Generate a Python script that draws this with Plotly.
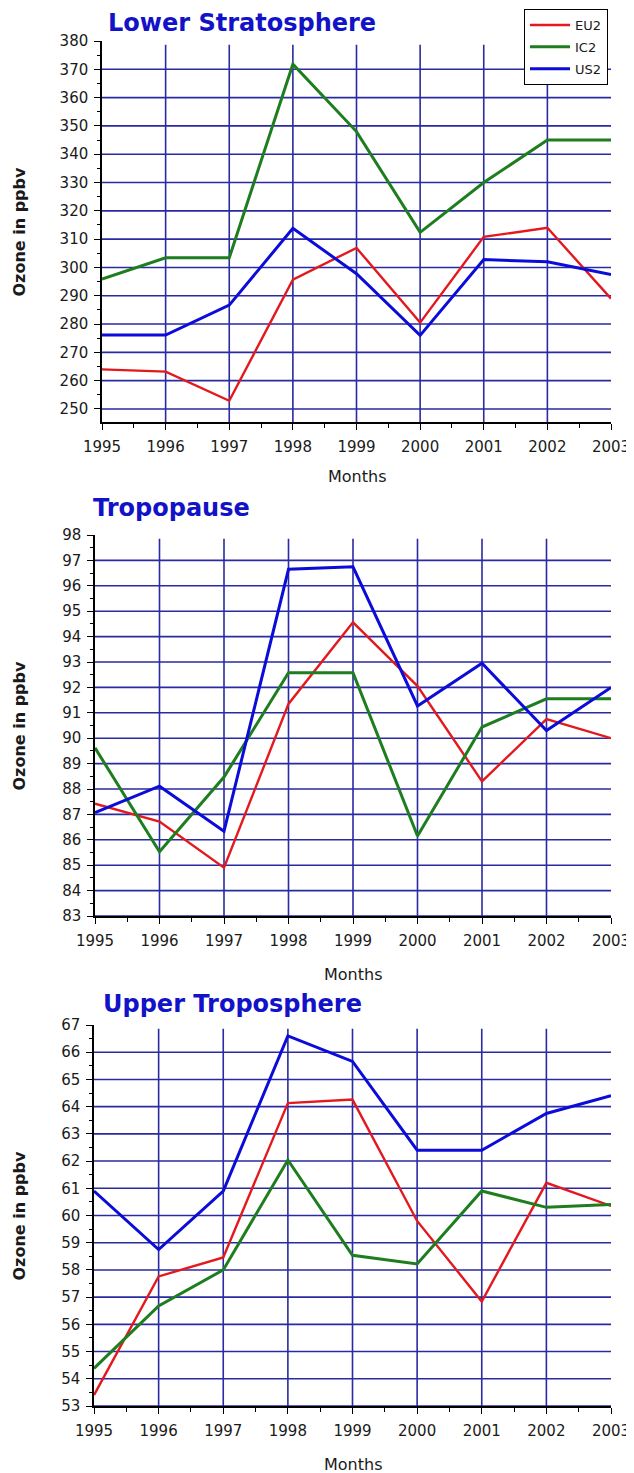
import plotly.graph_objects as go

# ---------------- data ----------------
years = [1995, 1996, 1997, 1998, 1999, 2000, 2001, 2002, 2003]
series_names = ["EU2", "IC2", "US2"]

# Lower Stratosphere
ls_eu2 = [264.0, 263.2, 252.9, 295.7, 306.9, 280.5, 310.8, 314.0, 289.0]
ls_ic2 = [295.9, 303.4, 303.4, 371.8, 348.0, 312.4, 330.0, 345.0, 345.0]
ls_us2 = [276.1, 276.1, 286.7, 313.8, 297.8, 276.0, 302.8, 302.0, 297.5]

# Tropopause
tp_eu2 = [87.42, 86.72, 84.90, 91.35, 94.56, 92.05, 88.30, 90.75, 90.00]
tp_ic2 = [89.62, 85.53, 88.47, 92.58, 92.58, 86.15, 90.44, 91.55, 91.55]
tp_us2 = [87.07, 88.11, 86.34, 96.65, 96.75, 91.27, 92.95, 90.30, 92.00]

# Upper Troposphere
ut_eu2 = [53.40, 57.76, 58.46, 64.13, 64.26, 59.80, 56.84, 61.20, 60.35]
ut_ic2 = [54.38, 56.68, 58.00, 62.04, 58.54, 58.22, 60.90, 60.30, 60.40]
ut_us2 = [60.90, 58.75, 60.90, 66.60, 65.66, 62.40, 62.40, 63.75, 64.40]

ls_yticks = [250, 260, 270, 280, 290, 300, 310, 320, 330, 340, 350, 360, 370, 380]
tp_yticks = [83, 84, 85, 86, 87, 88, 89, 90, 91, 92, 93, 94, 95, 96, 97, 98]
ut_yticks = [53, 54, 55, 56, 57, 58, 59, 60, 61, 62, 63, 64, 65, 66, 67]
x_ticklabels = [str(y) for y in years]

panel_titles = ["Lower Stratosphere", "Tropopause", "Upper Troposphere"]
x_title = "Months"
y_title = "Ozone in ppbv"

# ---------------- styling / layout geometry ----------------
PAGE_W, PAGE_H = 634, 1473
OFF = 8  # default body margin of the page
W, H = PAGE_W - OFF, PAGE_H - OFF
colors = ["#e3191e", "#1e7d1e", "#0c0cd8"]
widths = [2.4, 3.0, 3.0]
grid_color = "#2a2aa2"
font_family = "DejaVu Sans"

# (x_left, x_right, y_top, y_bottom) in page pixels
panel_px = [(102, 611, 41, 422), (95, 611, 535, 916), (94, 611, 1025, 1406)]
y_ranges = [[245.4, 380], [83, 98], [53, 67]]
y_minor = [(245, 5), (83, 0.5), (53, 0.5)]
# (x_left, y_top of text box) in page pixels
title_px = [(107, 8.5), (92, 493), (102, 989)]
months_py = [477, 975, 1464]

panel_series = [
    [ls_eu2, ls_ic2, ls_us2],
    [tp_eu2, tp_ic2, tp_us2],
    [ut_eu2, ut_ic2, ut_us2],
]
panel_ticks = [ls_yticks, tp_yticks, ut_yticks]


def fx(px):
    return (px - OFF) / W


def fy(py):
    return 1 - (py - OFF) / H


fig = go.Figure()
annotations = []
shapes = []
layout = {}

for i in range(3):
    k = i + 1
    sfx = "" if k == 1 else str(k)
    x0, x1, yt, yb = panel_px[i]

    for j, name in enumerate(series_names):
        fig.add_trace(go.Scatter(
            x=years, y=panel_series[i][j], mode="lines", name=name,
            line=dict(color=colors[j], width=widths[j]),
            xaxis="x" + sfx, yaxis="y" + sfx,
            showlegend=(i == 0), legendgroup=name,
        ))

    tick_font = dict(family=font_family, size=15, color="#1a1a1a")
    layout["xaxis" + sfx] = dict(
        domain=[fx(x0), fx(x1)], range=[years[0], years[-1]], anchor="y" + sfx,
        tickmode="array", tickvals=years, ticktext=x_ticklabels,
        showgrid=False, zeroline=False, showline=True, linecolor="black", linewidth=1.5,
        ticks="outside", ticklen=6, tickwidth=1.3, tickcolor="black",
        minor=dict(ticks="outside", ticklen=4, tickwidth=1, tickcolor="black",
                   tick0=years[0], dtick=0.5, showgrid=False),
        tickfont=tick_font, ticklabelstandoff=4, automargin=False,
    )
    layout["yaxis" + sfx] = dict(
        domain=[fy(yb), fy(yt)], range=y_ranges[i], anchor="x" + sfx,
        tickmode="array", tickvals=panel_ticks[i],
        showgrid=False, zeroline=False, showline=True, linecolor="black", linewidth=1.5,
        ticks="outside", ticklen=6, tickwidth=1.3, tickcolor="black",
        minor=dict(ticks="outside", ticklen=3, tickwidth=1, tickcolor="black",
                   tick0=y_minor[i][0], dtick=y_minor[i][1], showgrid=False),
        tickfont=tick_font, ticklabelstandoff=3, automargin=False,
    )

    # interior grid lines (no line on the top tick or the 2003 edge)
    for v in panel_ticks[i][:-1]:
        shapes.append(dict(
            type="line", layer="below", xref="x" + sfx + " domain", yref="y" + sfx,
            x0=0, x1=1, y0=v, y1=v, line=dict(color=grid_color, width=1.6),
        ))
    for yr in years[1:-1]:
        shapes.append(dict(
            type="line", layer="below", xref="x" + sfx, yref="y" + sfx + " domain",
            x0=yr, x1=yr, y0=0, y1=0.99, line=dict(color=grid_color, width=1.6),
        ))

    tx, ty = title_px[i]
    annotations.append(dict(
        text=panel_titles[i], xref="paper", yref="paper", x=fx(tx), y=fy(ty),
        xanchor="left", yanchor="top", showarrow=False, borderpad=0,
        font=dict(family=font_family, size=24, color="#1212c8", weight="bold"),
    ))
    annotations.append(dict(
        text=x_title, xref="paper", yref="paper", x=fx((x0 + x1) / 2), y=fy(months_py[i]),
        xanchor="center", yanchor="middle", showarrow=False,
        font=dict(family=font_family, size=16, color="#1a1a1a"),
    ))
    annotations.append(dict(
        text=y_title, xref="paper", yref="paper", x=fx(19), y=fy((yt + yb) / 2),
        xanchor="center", yanchor="middle", showarrow=False, textangle=-90,
        font=dict(family=font_family, size=16, color="#1a1a1a", weight="bold"),
    ))

fig.update_layout(
    width=W, height=H, margin=dict(l=0, r=0, t=0, b=0, autoexpand=False),
    paper_bgcolor="white", plot_bgcolor="white",
    showlegend=True,
    legend=dict(
        x=fx(524), y=fy(9), xanchor="left", yanchor="top",
        bgcolor="white", bordercolor="black", borderwidth=1,
        font=dict(family=font_family, size=13, color="#1a1a1a"),
        itemwidth=40, tracegroupgap=2,
    ),
    annotations=annotations,
    shapes=shapes,
    **layout,
)

fig.write_html("out.html")
